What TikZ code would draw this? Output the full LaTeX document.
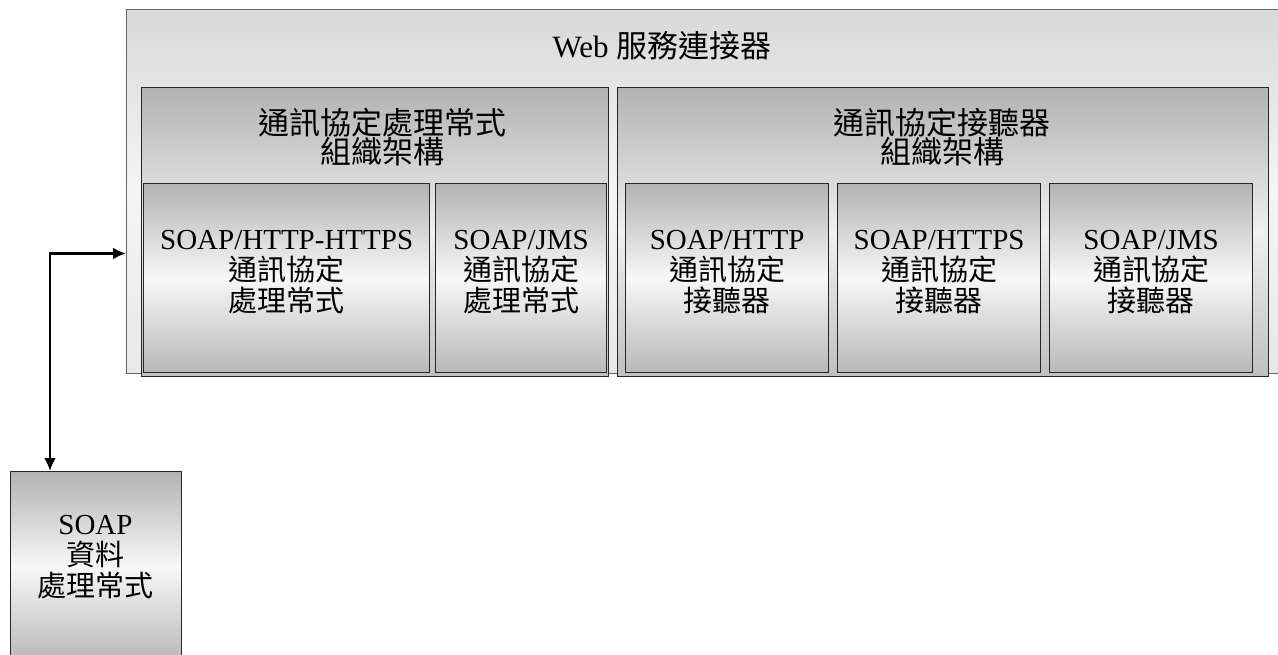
\documentclass[tikz,border=0pt]{standalone}
\usepackage{fontspec}
\setmainfont{Liberation Serif}
\newfontfamily\cjk{Noto Sans CJK TC}
\usetikzlibrary{arrows.meta}
\newcommand\zh[1]{{\cjk #1}}
\begin{document}
\begin{tikzpicture}[x=1pt,y=-1pt,
  boxbase/.style={draw=black!85, line width=1.3pt, inner sep=0pt, anchor=north west},
  outerbox/.style={boxbase, draw=black!60, line width=1pt, top color=black!15, bottom color=black!9, middle color=black!4},
  panel/.style={boxbase, top color=black!30, bottom color=black!25, middle color=black!6},
  subbox/.style={boxbase, top color=black!30, bottom color=black!28, middle color=black!3},
  txt/.style={font=\fontsize{29}{31}\selectfont, align=center, inner sep=0pt},
  bigtxt/.style={font=\fontsize{31}{29}\selectfont, align=center, inner sep=0pt},
  conn/.style={line width=2.6pt, {Latex[length=13pt,width=12pt]}-{Latex[length=13pt,width=12pt]}}
]
\clip (0,0) rectangle (1278,655);

\node[outerbox, minimum width=1170pt, minimum height=364pt] (outer) at (126,9) {};
\node[bigtxt] (title) at (662,46) {Web \zh{服務連接器}};

\node[panel, minimum width=467pt, minimum height=289pt] (lp) at (141,87) {};
\node[panel, minimum width=651pt, minimum height=289pt] (rp) at (617,87) {};
\node[bigtxt] (lpt) at (382,137) {\zh{通訊協定處理常式}\\\zh{組織架構}};
\node[bigtxt] (rpt) at (942,137) {\zh{通訊協定接聽器}\\\zh{組織架構}};

\node[subbox, minimum width=286pt, minimum height=189pt] (s1) at (143,183) {};
\node[subbox, minimum width=171pt, minimum height=189pt] (s2) at (435,183) {};
\node[subbox, minimum width=203pt, minimum height=189pt] (s3) at (625,183) {};
\node[subbox, minimum width=203pt, minimum height=189pt] (s4) at (837,183) {};
\node[subbox, minimum width=203pt, minimum height=189pt] (s5) at (1049,183) {};

\node[txt] (t1) at ([yshift=6pt]s1.center) {SOAP/HTTP-HTTPS\\\zh{通訊協定}\\\zh{處理常式}};
\node[txt] (t2) at ([yshift=6pt]s2.center) {SOAP/JMS\\\zh{通訊協定}\\\zh{處理常式}};
\node[txt] (t3) at ([yshift=6pt]s3.center) {SOAP/HTTP\\\zh{通訊協定}\\\zh{接聽器}};
\node[txt] (t4) at ([yshift=6pt]s4.center) {SOAP/HTTPS\\\zh{通訊協定}\\\zh{接聽器}};
\node[txt] (t5) at ([yshift=6pt]s5.center) {SOAP/JMS\\\zh{通訊協定}\\\zh{接聽器}};

\node[subbox, minimum width=171pt, minimum height=190pt] (data) at (10,471) {};
\node[txt] (dt) at (95.5,557) {SOAP\\\zh{資料}\\\zh{處理常式}};

\draw[conn] ([xshift=40pt]data.north west) |- ([yshift=-62pt]outer.west);
\end{tikzpicture}
\end{document}
